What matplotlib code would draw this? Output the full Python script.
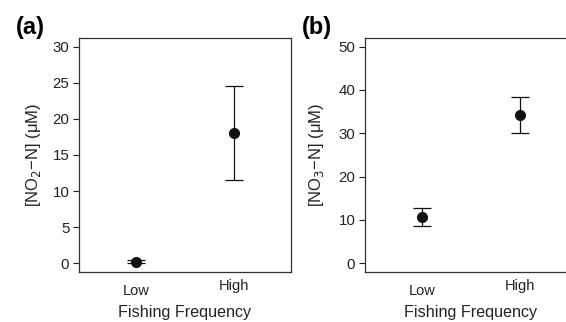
import matplotlib.pyplot as plt

plt.rcParams['font.family'] = ['Liberation Sans', 'DejaVu Sans']

groups = ['Low', 'High']

no2_mean = [0.25, 18.1]
no2_lo = [0.1, 11.6]
no2_hi = [0.4, 24.6]

no3_mean = [10.6, 34.2]
no3_lo = [8.5, 30.0]
no3_hi = [12.8, 38.3]

# R centres tick labels on their ink, so "Low" sits a bit lower than "High"
label_drop = [16.8, 13.2]


def panel(ax, mean, lo, hi, ymax, step, ylab, tag, ylab_x):
    x = [1, 2]
    err = [[m - l for m, l in zip(mean, lo)], [h - m for m, h in zip(mean, hi)]]
    ax.errorbar(x, mean, yerr=err, fmt='o', color='#111111', ms=7,
                elinewidth=0.9, capsize=6.5, capthick=0.9)
    ax.set_xlim(0.42, 2.58)
    pad = ymax * 0.04
    ax.set_ylim(-pad, ymax + pad)
    ax.set_yticks(range(0, ymax + 1, step))
    ax.set_xticks([])
    for xi, g, d in zip(x, groups, label_drop):
        ax.annotate(g, xy=(xi, 0), xycoords=('data', 'axes fraction'),
                    xytext=(0, -d), textcoords='offset points',
                    ha='center', va='baseline', fontsize=10.5, color='#222222')
    ax.tick_params(axis='y', length=4, width=0.8, pad=3, labelsize=10.8, colors='#222222')
    for s in ax.spines.values():
        s.set_linewidth(0.9)
        s.set_color('#333333')
    ax.set_xlabel('Fishing Frequency', fontsize=11.6, color='#222222')
    ax.xaxis.set_label_coords(0.5, -0.175)
    ax.xaxis.label.set_va('center')
    ax.set_ylabel(ylab, fontsize=12, color='#222222')
    ax.yaxis.set_label_coords(ylab_x, 0.5)
    ax.yaxis.label.set_va('center')
    ax.text(-0.3, 1.043, tag, transform=ax.transAxes, fontsize=17,
            fontweight='bold', ha='left', va='center')


fig = plt.figure(figsize=(5.66, 3.22), dpi=100)
ax1 = fig.add_axes([0.1396, 0.1553, 0.3746, 0.7267])
ax2 = fig.add_axes([0.6449, 0.1553, 0.3746, 0.7267])

panel(ax1, no2_mean, no2_lo, no2_hi, 30, 5, '[NO$_2$\u2212N] (\u03bcM)', '(a)', -0.217)
panel(ax2, no3_mean, no3_lo, no3_hi, 50, 10, '[NO$_3$\u2212N] (\u03bcM)', '(b)', -0.231)

fig.savefig('out.png', dpi=100)
